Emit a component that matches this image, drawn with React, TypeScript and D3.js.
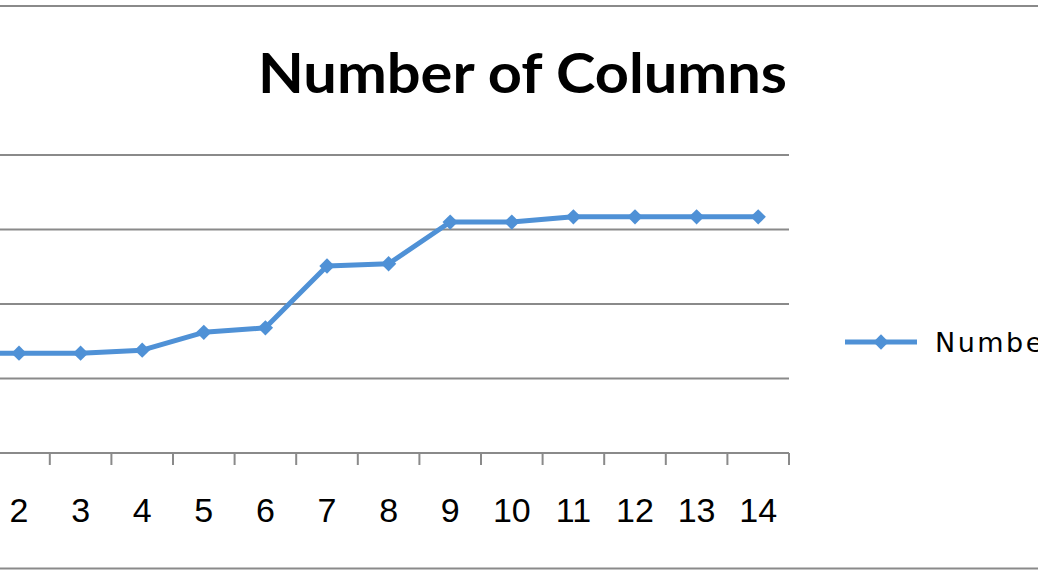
import React from "react";
import * as d3 from "d3";

const categories = [1, 2, 3, 4, 5, 6, 7, 8, 9, 10, 11, 12, 13, 14];
const values = [13.4, 13.4, 13.4, 13.8, 16.2, 16.8, 25.1, 25.4, 31.0, 31.0, 31.7, 31.7, 31.7, 31.7];
const yTicks = [10, 20, 30, 40];
const seriesName = "Number of Columns";
const title = "Number of Columns";

const W = 1038;
const H = 576;
const plotLeft = -73.4;
const plotRight = 789;
const plotTop = 155;
const plotBottom = 453;
const lineColor = "#4f91d6";
const gridColor = "#8a8a8a";

export default function App() {
  const x = d3.scaleBand<number>().domain(categories).range([plotLeft, plotRight]).padding(0);
  const y = d3.scaleLinear().domain([0, 40]).range([plotBottom, plotTop]);
  const cx = (c: number) => (x(c) as number) + x.bandwidth() / 2;
  const line = d3
    .line<number>()
    .x((_, i) => cx(categories[i]))
    .y((v) => y(v));
  const diamond = d3.symbol().type(d3.symbolDiamond2).size(150)();
  const tickXs = [...categories.map((c) => x(c) as number), plotRight];

  return (
    <svg
      width={W}
      height={H}
      style={{ position: "absolute", left: 0, top: 0, display: "block", background: "#fff" }}
    >
      <rect x={0} y={0} width={W} height={H} fill="#fff" />
      <line x1={0} x2={W} y1={6} y2={6} stroke={gridColor} strokeWidth={2} />
      <line x1={0} x2={W} y1={568.5} y2={568.5} stroke={gridColor} strokeWidth={2} />
      <text
        x={258}
        y={93}
        fontFamily="Lato, 'Open Sans', sans-serif"
        fontWeight={700}
        fontSize={55}
        textLength={529}
        lengthAdjust="spacingAndGlyphs"
        fill="#000"
      >
        {title}
      </text>
      {yTicks.map((t) => (
        <line key={t} x1={plotLeft} x2={plotRight} y1={y(t)} y2={y(t)} stroke={gridColor} strokeWidth={2} />
      ))}
      <line x1={plotLeft} x2={plotRight} y1={plotBottom} y2={plotBottom} stroke={gridColor} strokeWidth={2} />
      {tickXs.map((tx, i) => (
        <line key={i} x1={tx} x2={tx} y1={plotBottom} y2={plotBottom + 12} stroke={gridColor} strokeWidth={2} />
      ))}
      {categories.map((c) => (
        <text
          key={c}
          x={cx(c)}
          y={522}
          textAnchor="middle"
          fontFamily="'Liberation Sans', Arial, sans-serif"
          fontSize={34}
          fill="#000"
        >
          {c}
        </text>
      ))}
      <path d={line(values) || ""} fill="none" stroke={lineColor} strokeWidth={5} strokeLinejoin="round" />
      {values.map((v, i) => (
        <path key={i} d={diamond || ""} transform={`translate(${cx(categories[i])},${y(v)})`} fill={lineColor} />
      ))}
      <g>
        <line x1={845} x2={917} y1={342} y2={342} stroke={lineColor} strokeWidth={5} />
        <path d={diamond || ""} transform="translate(881,342)" fill={lineColor} />
        <text
          x={935}
          y={352}
          fontFamily="'DejaVu Sans', sans-serif"
          fontSize={27}
          letterSpacing={2.5}
          fill="#000"
        >
          {seriesName}
        </text>
      </g>
    </svg>
  );
}
